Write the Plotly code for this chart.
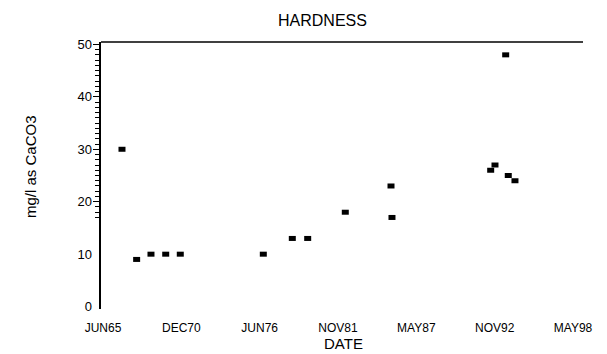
import plotly.graph_objects as go

# ---- data ----
sample_dates = ["1966-10-23", "1967-11-01", "1968-11-01", "1969-11-12", "1970-11-19",
                "1976-09-08", "1978-09-18", "1979-10-16", "1982-06-02", "1985-08-12",
                "1985-09-06", "1992-07-31", "1992-11-18", "1993-08-18", "1993-10-23",
                "1994-04-12"]
hardness = [30, 9, 10, 10, 10, 10, 13, 13, 18, 23, 17, 26, 27, 48, 25, 24]

x_tick_dates = ["1965-06-25", "1970-12-16", "1976-06-07", "1981-11-28",
                "1987-05-21", "1992-11-10", "1998-05-03"]
x_tick_labels = ["JUN65", "DEC70", "JUN76", "NOV81", "MAY87", "NOV92", "MAY98"]
y_tick_vals = [0, 10, 20, 30, 40, 50]
y_tick_labels = ["0", "10", "20", "30", "40", "50"]
y_major_marks = [20, 30, 40, 50]
y_minor_marks = [v for v in range(17, 50) if v % 10 != 0]

FONT = "Liberation Sans"
OFF = 8  # default page body margin of the browser
W, H = 607 - OFF, 354 - OFF
# target pixel positions in the 607x354 window
L, R, T, B = 101 - OFF, 24, 42 - OFF, 45
pw, ph = W - L - R, H - T - B
plot_left, plot_top, plot_bottom = 101, 42, 309

fig = go.Figure()
fig.add_trace(go.Scatter(
    x=sample_dates, y=hardness, mode="markers",
    marker=dict(symbol="line-ew", size=5, color="black",
                line=dict(color="black", width=5)),
    hoverinfo="x+y", showlegend=False, yaxis="y"))
# invisible companion trace so the label axis is drawn
fig.add_trace(go.Scatter(
    x=sample_dates, y=hardness, mode="markers",
    marker=dict(opacity=0), hoverinfo="skip", showlegend=False, yaxis="y2"))

yr = [-0.45, 50.45]
fig.update_layout(
    width=W, height=H,
    margin=dict(l=L, r=R, t=T, b=B, autoexpand=False),
    paper_bgcolor="white", plot_bgcolor="white",
    font=dict(family=FONT, color="black", size=12),
    xaxis=dict(type="date", range=["1965-05-05", "1999-01-13"],
               tickmode="array", tickvals=x_tick_dates, ticktext=x_tick_labels,
               showline=False, ticks="", showgrid=False, zeroline=False,
               tickfont=dict(size=12), ticklabelstandoff=10),
    yaxis=dict(range=yr, showline=True, linecolor="black", linewidth=1.5,
               tickmode="array", tickvals=y_major_marks, ticks="outside",
               ticklen=6, tickwidth=1, tickcolor="black",
               showticklabels=False, showgrid=False, zeroline=False,
               minor=dict(tickmode="array", tickvals=y_minor_marks,
                          ticks="outside", ticklen=4, tickwidth=1,
                          tickcolor="black", showgrid=False)),
    yaxis2=dict(range=yr, overlaying="y", side="left",
                tickmode="array", tickvals=y_tick_vals, ticktext=y_tick_labels,
                ticks="", showline=False, showgrid=False, zeroline=False,
                tickfont=dict(size=13), ticklabelstandoff=8),
    shapes=[dict(type="line", xref="paper", yref="paper",
                 x0=0, x1=1, y0=1, y1=1,
                 line=dict(color="black", width=1.5))],
    annotations=[
        dict(text="HARDNESS", xref="paper", yref="paper",
             x=(322 - plot_left) / pw, y=1 + (plot_top - 20) / ph,
             xanchor="center", yanchor="middle", showarrow=False,
             font=dict(size=16, family=FONT)),
        dict(text="mg/l as CaCO3", xref="paper", yref="paper",
             x=(30 - plot_left) / pw, y=(plot_bottom - 167) / ph, textangle=-90,
             xanchor="center", yanchor="middle", showarrow=False,
             font=dict(size=15, family=FONT)),
        dict(text="DATE", xref="paper", yref="paper",
             x=(343 - plot_left) / pw, y=-(343 - plot_bottom) / ph,
             xanchor="center", yanchor="middle", showarrow=False,
             font=dict(size=15, family=FONT)),
    ],
)

fig.write_html("out.html")
